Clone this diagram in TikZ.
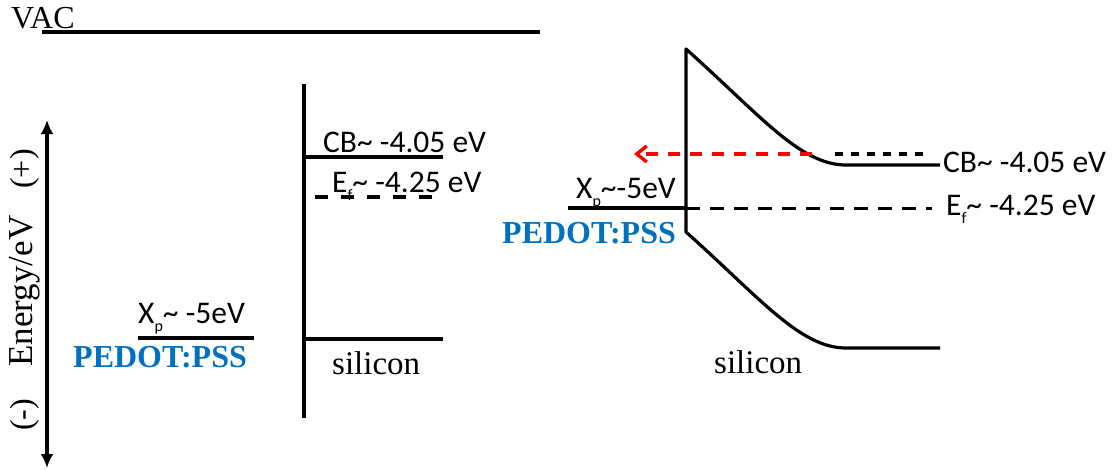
\documentclass[tikz,border=0pt]{standalone}
\usepackage{fontspec}
\setmainfont{Liberation Serif}
\newfontfamily\labfont{Carlito}
\usetikzlibrary{arrows.meta}
\definecolor{pblue}{RGB}{0,112,192}
\newcommand{\subs}[1]{\raisebox{-0.26em}{\fontsize{16}{16}\selectfont #1}}
\begin{document}
\begin{tikzpicture}[x=1pt,y=-1pt,
  level/.style={line width=3.2pt},
  dashlevel/.style={line width=3pt, dash pattern=on 14pt off 10pt},
  lab/.style={anchor=base west, inner sep=0pt, font=\labfont\fontsize{31.5}{31.5}\selectfont},
  serif/.style={anchor=base west, inner sep=0pt, font=\fontsize{33}{33}\selectfont},
  pedot/.style={anchor=base west, inner sep=0pt, text=pblue, font=\bfseries\fontsize{32}{32}\selectfont},
  rot/.style={rotate=90, inner sep=0pt, font=\fontsize{35}{35}\selectfont}]
\useasboundingbox (0,0) rectangle (1120,469);
% vacuum level
\node[serif, font=\fontsize{32}{32}\selectfont] (vac) at (11,28) {VAC};
\coordinate (vacL) at (42,32); \coordinate (vacR) at (540,32);
\draw[level] (vacL) -- (vacR);
% energy axis
\coordinate (eTop) at (47,120); \coordinate (eBot) at (47,468);
\draw[line width=3.4pt, {Latex[length=14pt,width=13pt]}-{Latex[length=14pt,width=13pt]}] (eBot) -- (eTop);
\node[rot] (energy) at (25,291) {Energy/eV};
\node[rot, font=\fontsize{32}{32}\selectfont] (plus) at (25,169) {(+)};
\node[rot, font=\fontsize{32}{32}\selectfont] (minus) at (25,415) {(-)};
% left: separated materials
\coordinate (siTop) at (304,84); \coordinate (siBot) at (304,418);
\draw[level] (siTop) -- (siBot);
\coordinate (cbL1) at (304,157); \coordinate (cbL2) at (443,157);
\draw[level] (cbL1) -- (cbL2);
\coordinate (efL1) at (315,197); \coordinate (efL2) at (436,197);
\draw[line width=3.2pt, dash pattern=on 13pt off 13pt] (efL1) -- (efL2);
\coordinate (vbL1) at (304,339); \coordinate (vbL2) at (443,339);
\draw[level] (vbL1) -- (vbL2);
\coordinate (xpL1) at (138,338); \coordinate (xpL2) at (254,338);
\draw[level] (xpL1) -- (xpL2);
\node[lab] (cbLt) at (323,152) {CB\textasciitilde\ -4.05 eV};
\node[lab] (efLt) at (332,192) {E\subs{f}\textasciitilde\ -4.25 eV};
\node[lab] (xpLt) at (138,323) {X\subs{p}\textasciitilde\ -5eV};
\node[pedot] (pedL) at (73,367) {PEDOT:PSS};
\node[serif] (siL) at (332,374) {silicon};
% right: junction
\coordinate (ifTop) at (686,49); \coordinate (ifBot) at (686,232);
\coordinate (cbR1) at (846,165); \coordinate (cbR2) at (940,165);
\coordinate (vbR1) at (846,348); \coordinate (vbR2) at (940,348);
\draw[level, line join=round] (cbR2) -- (cbR1) .. controls (800,165) and (760,115) .. (ifTop) -- (ifBot) .. controls (760,298) and (800,348) .. (vbR1) -- (vbR2);
\coordinate (dotA) at (835,154); \coordinate (dotB) at (930,154);
\draw[line width=3.6pt, dash pattern=on 8pt off 8pt] (dotA) -- (dotB);
\coordinate (redA) at (812,154); \coordinate (redB) at (634,154);
\draw[line width=3.4pt, red, dash pattern=on 12pt off 10pt, -{Straight Barb[length=10pt,width=16pt]}] (redA) -- (redB);
\coordinate (efR1) at (686,208); \coordinate (efR2) at (932,208);
\draw[dashlevel] (efR1) -- (efR2);
\coordinate (xpR1) at (568,208);
\draw[level] (xpR1) -- (efR1);
\node[lab] (cbRt) at (943,172) {CB\textasciitilde\ -4.05 eV};
\node[lab] (efRt) at (946,215) {E\subs{f}\textasciitilde\ -4.25 eV};
\node[lab] (xpRt) at (576,198) {X\subs{p}\textasciitilde-5eV};
\node[pedot] (pedR) at (502,243) {PEDOT:PSS};
\node[serif] (siR) at (714,373) {silicon};
\end{tikzpicture}
\end{document}
